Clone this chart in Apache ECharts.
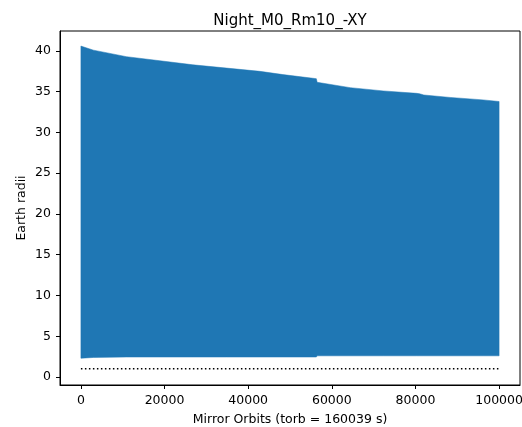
<!DOCTYPE html>
<html>
<head>
<meta charset="utf-8">
<script src="https://cdn.jsdelivr.net/npm/echarts@6/dist/echarts.min.js"></script>
<style>
html,body{margin:0;padding:0;background:#fff;}
#chart{width:522px;height:427px;}
</style>
</head>
<body>
<div id="chart"></div>
<script>
// Envelope of the mirror-orbit radius (Earth radii)
var orbitX = [0, 3000, 10900, 18900, 26800, 34800, 42800, 48300, 55500, 56300, 56500, 57200, 64400, 72300, 80300, 81000, 82000, 88300, 96200, 100000];
var topR   = [40.6, 40.1, 39.3, 38.8, 38.3, 37.9, 37.5, 37.1, 36.65, 36.6, 36.15, 36.1, 35.5, 35.1, 34.8, 34.75, 34.6, 34.3, 34.0, 33.8];
var lowR   = [2.3, 2.4, 2.45, 2.45, 2.45, 2.45, 2.45, 2.45, 2.45, 2.45, 2.6, 2.6, 2.6, 2.6, 2.6, 2.6, 2.6, 2.6, 2.6, 2.6];
// Earth surface reference line
var earthX = [0, 100000];
var earthR = [1, 1];
var xTicks = [0, 20000, 40000, 60000, 80000, 100000];
var yTicks = [0, 5, 10, 15, 20, 25, 30, 35, 40];

var font = 'DejaVu Sans';
var chart = echarts.init(document.getElementById('chart'), null, {renderer: 'canvas'});
var earthData = earthX.map(function (x, i) { return [x, earthR[i]]; });
var plain = function (v) { return String(v); };

chart.setOption({
  animation: false,
  title: {
    text: 'Night_M0_Rm10_-XY',
    left: 285, top: 9, textAlign: 'center',
    textStyle: {fontFamily: font, fontSize: 15, fontWeight: 'normal', color: '#000'}
  },
  grid: {left: 60, right: 2, top: 31, bottom: 42, show: true, borderColor: '#000', borderWidth: 1,
         containLabel: false, outerBoundsMode: 'none'},
  xAxis: {
    type: 'value', min: -5000, max: 105000,
    name: 'Mirror Orbits (torb = 160039 s)', nameLocation: 'middle', nameGap: 28,
    nameTextStyle: {fontFamily: font, fontSize: 12.5, color: '#000'},
    axisLine: {onZero: false, lineStyle: {color: '#000', width: 1}},
    axisTick: {show: true, length: 4, customValues: xTicks, lineStyle: {color: '#000'}},
    axisLabel: {customValues: xTicks, formatter: plain, margin: 9, fontFamily: font, fontSize: 12.5, color: '#000'},
    splitLine: {show: false}
  },
  yAxis: {
    type: 'value', min: -0.98, max: 42.45,
    name: 'Earth radii', nameLocation: 'middle', nameGap: 32, nameMoveOverlap: false,
    nameTextStyle: {fontFamily: font, fontSize: 12.5, color: '#000'},
    axisLine: {show: true, onZero: false, lineStyle: {color: '#000', width: 1}},
    axisTick: {show: true, length: 4, customValues: yTicks, lineStyle: {color: '#000'}},
    axisLabel: {customValues: yTicks, formatter: plain, margin: 9, fontFamily: font, fontSize: 12.5, color: '#000'},
    splitLine: {show: false}
  },
  series: [
    {
      type: 'custom', silent: true,
      data: [[0, 0]],
      renderItem: function (params, api) {
        var pts = [];
        for (var i = 0; i < orbitX.length; i++) pts.push(api.coord([orbitX[i], topR[i]]));
        for (var j = orbitX.length - 1; j >= 0; j--) pts.push(api.coord([orbitX[j], lowR[j]]));
        return {type: 'polygon', shape: {points: pts},
                style: {fill: '#1f77b4', stroke: '#1f77b4', lineWidth: 0.5}};
      }
    },
    {
      type: 'line', data: earthData, symbol: 'none', z: 5,
      lineStyle: {color: '#000', width: 1.5, type: [1.5, 2.5]}, silent: true
    }
  ]
});
</script>
</body>
</html>
